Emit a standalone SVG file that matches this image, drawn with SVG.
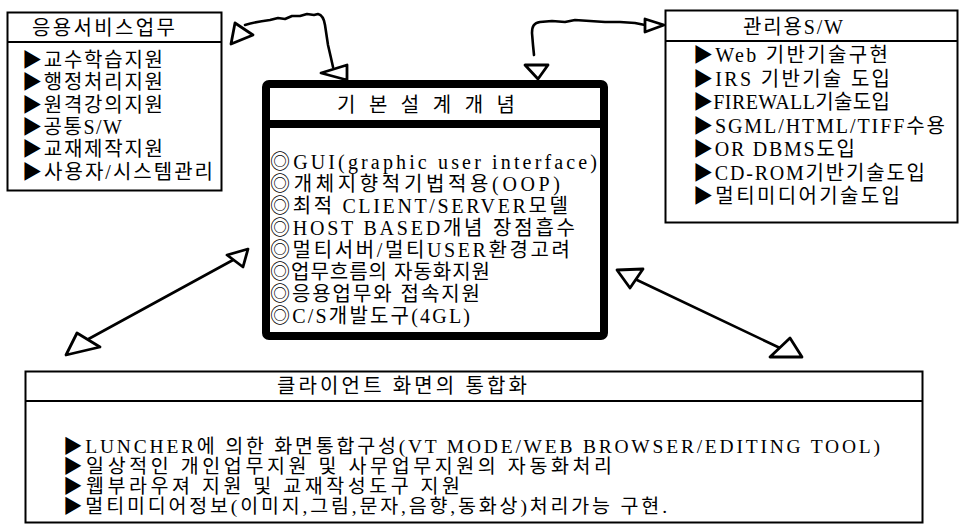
<svg xmlns="http://www.w3.org/2000/svg" width="968" height="527" viewBox="0 0 968 527">
<style>
text{font-family:"Liberation Serif","Noto Sans CJK KR",serif;fill:#000}
.t20{font-size:20px}
.t19{font-size:19.5px}
.box{fill:#fff;stroke:#000;stroke-width:2}
.sep{stroke:#000;stroke-width:2.2}
.con{fill:none;stroke:#000;stroke-width:2.6;stroke-linejoin:round;stroke-linecap:round}
.head{fill:#fff;stroke:#000;stroke-width:2.8;stroke-linejoin:round}
</style>
<rect width="968" height="527" fill="#fff"/>

<g id="node-app">
<rect class="box" x="7.5" y="12.5" width="214" height="178"/>
<line class="sep" x1="7.5" y1="42" x2="221.5" y2="42"/>
<text class="t20" x="32" y="35" textLength="143" lengthAdjust="spacing">응용서비스업무</text>
<text class="t20" x="22" y="67" textLength="141" lengthAdjust="spacing">▶교수학습지원</text>
<text class="t20" x="22" y="89" textLength="141" lengthAdjust="spacing">▶행정처리지원</text>
<text class="t20" x="22" y="112" textLength="141" lengthAdjust="spacing">▶원격강의지원</text>
<text class="t20" x="22" y="134" textLength="100" lengthAdjust="spacing">▶공통S/W</text>
<text class="t20" x="22" y="156" textLength="141" lengthAdjust="spacing">▶교재제작지원</text>
<text class="t20" x="22" y="179" textLength="191" lengthAdjust="spacing">▶사용자/시스템관리</text>
</g>

<g id="node-mgmt">
<rect class="box" x="665.5" y="10.5" width="292" height="212"/>
<line class="sep" x1="665.5" y1="41" x2="957.5" y2="41"/>
<text class="t20" x="743" y="34" textLength="100" lengthAdjust="spacing">관리용S/W</text>
<text class="t20" x="693" y="62" textLength="195" lengthAdjust="spacing">▶Web 기반기술구현</text>
<text class="t20" x="693" y="86" textLength="197" lengthAdjust="spacing">▶IRS 기반기술 도입</text>
<text class="t20" x="693" y="109" textLength="197" lengthAdjust="spacing">▶FIREWALL기술도입</text>
<text class="t20" x="693" y="133" textLength="252" lengthAdjust="spacing">▶SGML/HTML/TIFF수용</text>
<text class="t20" x="693" y="156" textLength="162" lengthAdjust="spacing">▶OR DBMS도입</text>
<text class="t20" x="693" y="180" textLength="232" lengthAdjust="spacing">▶CD-ROM기반기술도입</text>
<text class="t20" x="693" y="203" textLength="207" lengthAdjust="spacing">▶멀티미디어기술도입</text>
</g>

<g id="node-core">
<rect x="266" y="84" width="338" height="252" rx="3" fill="#fff" stroke="#000" stroke-width="8"/>
<line x1="266" y1="124" x2="604" y2="124" stroke="#000" stroke-width="8"/>
<text class="t20" x="337" y="112" textLength="178" lengthAdjust="spacing">기 본 설 계 개 념</text>
<text class="t20" x="270" y="169" textLength="327" lengthAdjust="spacing">◎GUI(graphic user interface)</text>
<text class="t20" x="270" y="191" textLength="290" lengthAdjust="spacing">◎개체지향적기법적용(OOP)</text>
<text class="t20" x="270" y="213" textLength="298" lengthAdjust="spacing">◎최적 CLIENT/SERVER모델</text>
<text class="t20" x="270" y="235" textLength="305" lengthAdjust="spacing">◎HOST BASED개념 장점흡수</text>
<text class="t20" x="270" y="257" textLength="300" lengthAdjust="spacing">◎멀티서버/멀티USER환경고려</text>
<text class="t20" x="270" y="279" textLength="220" lengthAdjust="spacing">◎업무흐름의 자동화지원</text>
<text class="t20" x="270" y="301" textLength="210" lengthAdjust="spacing">◎응용업무와 접속지원</text>
<text class="t20" x="270" y="323" textLength="200" lengthAdjust="spacing">◎C/S개발도구(4GL)</text>
</g>

<g id="node-client">
<rect class="box" x="25.5" y="371.5" width="897" height="151"/>
<line class="sep" x1="25.5" y1="401" x2="922.5" y2="401"/>
<text class="t20" x="277" y="393" textLength="250" lengthAdjust="spacing">클라이언트 화면의 통합화</text>
<text class="t19" x="63" y="453" textLength="817" lengthAdjust="spacing">▶LUNCHER에 의한 화면통합구성(VT MODE/WEB BROWSER/EDITING TOOL)</text>
<text class="t19" x="63" y="473" textLength="549" lengthAdjust="spacing">▶일상적인 개인업무지원 및 사무업무지원의 자동화처리</text>
<text class="t19" x="63" y="493" textLength="397" lengthAdjust="spacing">▶웹부라우져 지원 및 교재작성도구 지원</text>
<text class="t19" x="63" y="513" textLength="604" lengthAdjust="spacing">▶멀티미디어정보(이미지,그림,문자,음향,동화상)처리가능 구현.</text>
</g>

<g id="connectors">
<path class="con" d="M245,25 C255,22 262,21 270,20 L278,18 L285,19 L292,16 L300,16 L307,14 L314,15 L318,14 C322,15 324,18 325,25 L328,45 L331,58 L333,67"/>
<polygon class="head" points="235,23 253,35 231,44"/>
<polygon class="head" points="321,73 347,65 347,80"/>
<path class="con" d="M534,55 L533,45 L532,33 C532,26 534,23 540,22 L552,21 L565,22 L575,20 L590,21 L605,22 L620,22 L635,23 L645,25"/>
<polygon class="head" points="525,65 548,65 538,79"/>
<polygon class="head" points="645,19 664,25 645,32"/>
<line class="con" x1="233" y1="260" x2="83" y2="342"/>
<polygon class="head" points="248,249 227,255 243,267"/>
<polygon class="head" points="66,355 77,333 100,347"/>
<line class="con" x1="637" y1="280" x2="780" y2="348"/>
<polygon class="head" points="617,270 643,269 630,288"/>
<polygon class="head" points="770,357 790,338 802,357"/>
</g>
</svg>
